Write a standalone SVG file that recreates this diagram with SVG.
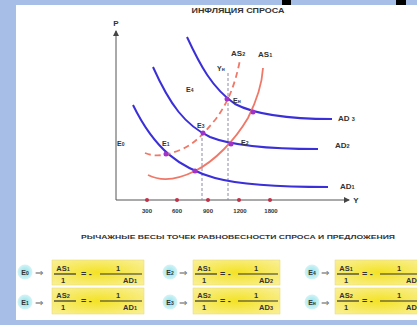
<svg xmlns="http://www.w3.org/2000/svg" width="417" height="325" viewBox="0 0 417 325">
<defs>
<style>
.t{font-family:"Liberation Sans",Arial,sans-serif;font-weight:bold;fill:#333}
.ad{fill:none;stroke:#3a2fd8;stroke-width:2}
.as{fill:none;stroke:#f07868;stroke-width:1.8}
.vd{stroke:#8a8aa8;stroke-width:1;stroke-dasharray:3,2}
.pt{fill:#a033c8}
.tk{fill:#c03048}
.box{fill:url(#yel);stroke:#e8d870;stroke-width:0.5}
.cir{fill:url(#cy)}
.fl{stroke:#333;stroke-width:1.2}
.arr{font-family:"DejaVu Sans",sans-serif;font-size:10px;fill:#666}
</style>
<radialGradient id="yel" cx="0.5" cy="0.5" r="0.7">
<stop offset="0" stop-color="#f4e224"/>
<stop offset="1" stop-color="#f9f09a"/>
</radialGradient>
<radialGradient id="cy" cx="0.5" cy="0.5" r="0.5">
<stop offset="0" stop-color="#8ee2ea"/>
<stop offset="1" stop-color="#d4f4f6"/>
</radialGradient>
<marker id="ah" markerWidth="6" markerHeight="6" refX="5" refY="3" orient="auto" markerUnits="userSpaceOnUse">
<path d="M0,0 L6,3 L0,6 Z" fill="#444"/>
</marker>
</defs>
<rect x="0" y="0" width="417" height="325" fill="#a7bfe7"/>
<rect x="16" y="5" width="401" height="318" fill="#ffffff"/>
<rect x="282" y="0" width="9" height="5" fill="#000"/>
<rect x="396" y="0" width="10" height="5" fill="#000"/>

<text class="t" x="238" y="13" font-size="7" text-anchor="middle" fill="#444" textLength="93" lengthAdjust="spacingAndGlyphs">ИНФЛЯЦИЯ СПРОСА</text>

<g id="axes">
<line x1="116" y1="200" x2="116" y2="31" stroke="#555" stroke-width="1" marker-end="url(#ah)"/>
<line x1="116" y1="200" x2="349" y2="200" stroke="#555" stroke-width="1" marker-end="url(#ah)"/>
<text class="t" x="116" y="26" font-size="8" text-anchor="middle">P</text>
<text class="t" x="356" y="203" font-size="8" text-anchor="middle">Y</text>
<circle class="tk" cx="147" cy="200" r="2"/>
<circle class="tk" cx="177" cy="200" r="2"/>
<circle class="tk" cx="208" cy="200" r="2"/>
<circle class="tk" cx="239" cy="200" r="2"/>
<circle class="tk" cx="270" cy="200" r="2"/>
<text class="t" x="147" y="213" font-size="6" text-anchor="middle">300</text>
<text class="t" x="177" y="213" font-size="6" text-anchor="middle">600</text>
<text class="t" x="208" y="213" font-size="6" text-anchor="middle">900</text>
<text class="t" x="240" y="213" font-size="6" text-anchor="middle">1200</text>
<text class="t" x="271" y="213" font-size="6" text-anchor="middle">1800</text>
</g>

<g id="connectors">
<line class="vd" x1="202" y1="133" x2="202" y2="200"/>
<line class="vd" x1="228" y1="73" x2="228" y2="200"/>
<path class="ad" d="M133,105 C155,150 180,168 215,178 C245,186 290,187 328,187"/>
<path class="ad" d="M153,67 C170,105 185,125 210,137 C235,147 280,149 318,149"/>
<path class="ad" d="M187,37 C200,65 212,88 235,104 C260,117 300,119 332,119"/>
<path class="as" d="M148,175 C160,181 175,181 195,171 C215,161 235,140 248,118 C257,100 262,85 263,68"/>
<path class="as" stroke-dasharray="6,4" d="M145,153 C155,157 165,156 180,150 C195,144 205,132 215,120 C228,103 235,85 240,60"/>
</g>

<g id="points">
<circle class="pt" cx="195" cy="171" r="2.5"/>
<circle class="pt" cx="166" cy="154" r="2.5"/>
<circle class="pt" cx="203" cy="133" r="2.5"/>
<circle class="pt" cx="231" cy="144" r="2.5"/>
<circle class="pt" cx="227" cy="99" r="2.5"/>
<circle class="pt" cx="253" cy="112" r="2.5"/>
</g>

<g id="labels" font-size="8">
<text class="t" x="338" y="121" font-size="8">AD <tspan font-size="5.5">3</tspan></text>
<text class="t" x="335" y="148" font-size="8">AD<tspan font-size="5.5">2</tspan></text>
<text class="t" x="340" y="189" font-size="8">AD<tspan font-size="5.5">1</tspan></text>
<text class="t" x="258" y="57" font-size="8">AS<tspan font-size="5.5">1</tspan></text>
<text class="t" x="231" y="56" font-size="8">AS<tspan font-size="5.5">2</tspan></text>
<text class="t" x="217" y="71" font-size="7">Y<tspan font-size="5">н</tspan></text>
<text class="t" x="186" y="92" font-size="7">E<tspan font-size="5">4</tspan></text>
<text class="t" x="233" y="103" font-size="7">E<tspan font-size="5">н</tspan></text>
<text class="t" x="197" y="128" font-size="7">E<tspan font-size="5">3</tspan></text>
<text class="t" x="241" y="145" font-size="7">E<tspan font-size="5">2</tspan></text>
<text class="t" x="162" y="146" font-size="7">E<tspan font-size="5">1</tspan></text>
<text class="t" x="117" y="146" font-size="7">E<tspan font-size="5">0</tspan></text>
</g>

<text class="t" x="238" y="239" font-size="5.5" text-anchor="middle" textLength="314" lengthAdjust="spacingAndGlyphs">РЫЧАЖНЫЕ ВЕСЫ ТОЧЕК РАВНОВЕСНОСТИ СПРОСА И ПРЕДЛОЖЕНИЯ</text>

<g id="row1-e0">
<circle class="cir" cx="25" cy="272" r="7.5"/>
<text class="t" x="25" y="274.5" font-size="7" text-anchor="middle">E<tspan font-size="5">0</tspan></text>
<text class="arr" x="35" y="275.5">⇒</text>
<rect class="box" x="52" y="260" width="92" height="25"/>
<text class="t" x="63" y="271" font-size="7.5" text-anchor="middle">AS<tspan font-size="5.5">1</tspan></text>
<line class="fl" x1="54" y1="274" x2="76" y2="274"/>
<text class="t" x="63" y="282.5" font-size="7.5" text-anchor="middle">1</text>
<text class="t" x="81" y="276.5" font-size="9">= -</text>
<line class="fl" x1="100" y1="274" x2="142" y2="274"/>
<text class="t" x="118" y="271" font-size="7.5" text-anchor="middle">1</text>
<text class="t" x="130" y="282.5" font-size="7.5" text-anchor="middle">AD<tspan font-size="5.5">1</tspan></text>
</g>

<g id="row1-e2">
<circle class="cir" cx="170" cy="272" r="7.5"/>
<text class="t" x="170" y="274.5" font-size="7" text-anchor="middle">E<tspan font-size="5">2</tspan></text>
<text class="arr" x="179" y="275.5">⇒</text>
<rect class="box" x="193" y="260" width="87" height="25"/>
<text class="t" x="204" y="271" font-size="7.5" text-anchor="middle">AS<tspan font-size="5.5">1</tspan></text>
<line class="fl" x1="195" y1="274" x2="217" y2="274"/>
<text class="t" x="204" y="282.5" font-size="7.5" text-anchor="middle">1</text>
<text class="t" x="220" y="276.5" font-size="9">= -</text>
<line class="fl" x1="238" y1="274" x2="278" y2="274"/>
<text class="t" x="256" y="271" font-size="7.5" text-anchor="middle">1</text>
<text class="t" x="266" y="282.5" font-size="7.5" text-anchor="middle">AD<tspan font-size="5.5">2</tspan></text>
</g>

<g id="row1-e4">
<circle class="cir" cx="312" cy="272" r="7.5"/>
<text class="t" x="312" y="274.5" font-size="7" text-anchor="middle">E<tspan font-size="5">4</tspan></text>
<text class="arr" x="321" y="275.5">⇒</text>
<rect class="box" x="335" y="260" width="90" height="25"/>
<text class="t" x="346" y="271" font-size="7.5" text-anchor="middle">AS<tspan font-size="5.5">1</tspan></text>
<line class="fl" x1="337" y1="274" x2="359" y2="274"/>
<text class="t" x="346" y="282.5" font-size="7.5" text-anchor="middle">1</text>
<text class="t" x="362" y="276.5" font-size="9">= -</text>
<line class="fl" x1="380" y1="274" x2="417" y2="274"/>
<text class="t" x="399" y="271" font-size="7.5" text-anchor="middle">1</text>
<text class="t" x="406" y="282.5" font-size="7.5">AD</text>
</g>

<g id="row2-e1">
<circle class="cir" cx="25" cy="302" r="7.5"/>
<text class="t" x="25" y="304.5" font-size="7" text-anchor="middle">E<tspan font-size="5">1</tspan></text>
<text class="arr" x="35" y="305.5">⇒</text>
<rect class="box" x="52" y="288" width="92" height="26"/>
<text class="t" x="63" y="298" font-size="7.5" text-anchor="middle">AS<tspan font-size="5.5">2</tspan></text>
<line class="fl" x1="54" y1="301" x2="76" y2="301"/>
<text class="t" x="63" y="309.5" font-size="7.5" text-anchor="middle">1</text>
<text class="t" x="81" y="303.5" font-size="9">= -</text>
<line class="fl" x1="100" y1="301" x2="142" y2="301"/>
<text class="t" x="118" y="298" font-size="7.5" text-anchor="middle">1</text>
<text class="t" x="130" y="309.5" font-size="7.5" text-anchor="middle">AD<tspan font-size="5.5">1</tspan></text>
</g>

<g id="row2-e3">
<circle class="cir" cx="170" cy="302" r="7.5"/>
<text class="t" x="170" y="304.5" font-size="7" text-anchor="middle">E<tspan font-size="5">3</tspan></text>
<text class="arr" x="179" y="305.5">⇒</text>
<rect class="box" x="193" y="288" width="87" height="26"/>
<text class="t" x="204" y="298" font-size="7.5" text-anchor="middle">AS<tspan font-size="5.5">2</tspan></text>
<line class="fl" x1="195" y1="301" x2="217" y2="301"/>
<text class="t" x="204" y="309.5" font-size="7.5" text-anchor="middle">1</text>
<text class="t" x="220" y="303.5" font-size="9">= -</text>
<line class="fl" x1="238" y1="301" x2="278" y2="301"/>
<text class="t" x="256" y="298" font-size="7.5" text-anchor="middle">1</text>
<text class="t" x="266" y="309.5" font-size="7.5" text-anchor="middle">AD<tspan font-size="5.5">3</tspan></text>
</g>

<g id="row2-en">
<circle class="cir" cx="312" cy="302" r="7.5"/>
<text class="t" x="312" y="304.5" font-size="7" text-anchor="middle">E<tspan font-size="5">н</tspan></text>
<text class="arr" x="321" y="305.5">⇒</text>
<rect class="box" x="335" y="288" width="90" height="26"/>
<text class="t" x="346" y="298" font-size="7.5" text-anchor="middle">AS<tspan font-size="5.5">2</tspan></text>
<line class="fl" x1="337" y1="301" x2="359" y2="301"/>
<text class="t" x="346" y="309.5" font-size="7.5" text-anchor="middle">1</text>
<text class="t" x="362" y="303.5" font-size="9">= -</text>
<line class="fl" x1="380" y1="301" x2="417" y2="301"/>
<text class="t" x="399" y="298" font-size="7.5" text-anchor="middle">1</text>
<text class="t" x="406" y="309.5" font-size="7.5">AD</text>
</g>
<rect x="16" y="320" width="401" height="5" fill="#a7bfe7"/>
</svg>
